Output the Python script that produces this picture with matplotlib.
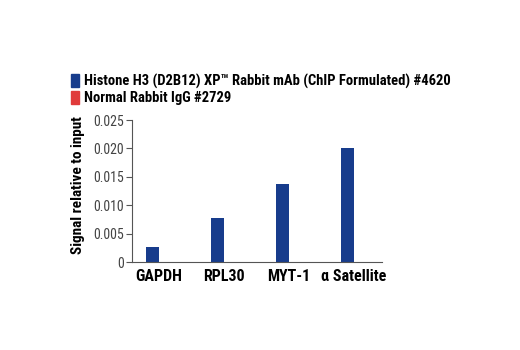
import numpy as np
import matplotlib.pyplot as plt
from matplotlib.patches import Patch

categories = ["GAPDH", "RPL30", "MYT-1", "\u03b1 Satellite"]
histone = [0.0027, 0.0077, 0.0137, 0.0200]
igg = [0.0001, 0.0001, 0.0001, 0.0001]
series_names = ["Histone H3 (D2B12) XP\u2122 Rabbit mAb (ChIP Formulated) #4620",
                "Normal Rabbit IgG #2729"]
yticks = [0, 0.005, 0.010, 0.015, 0.020, 0.025]
ytick_labels = ["0", "0.005", "0.010", "0.015", "0.020", "0.025"]

blue = "#173c8c"
red = "#e03a3a"
plt.rcParams['font.family'] = ["Roboto Condensed", "DejaVu Sans"]

fig = plt.figure(figsize=(5.2, 3.5), dpi=100)
ax = fig.add_axes([0.254, 0.251, 0.481, 0.406])

x = np.arange(len(categories))
w = 0.2
ax.bar(x, histone, w, color=blue)
ax.bar(x + w, igg, w, color=red)

ax.set_xlim(-0.315, 3.535)
ax.set_ylim(0, 0.025)
ax.set_yticks(yticks)
ax.set_yticklabels(ytick_labels, fontsize=10, color="#444444")
ax.set_xticks(x + w / 2)
ax.set_xticklabels(categories, fontsize=11.5, fontweight="bold")
ax.tick_params(axis="x", length=0, pad=5)
ax.tick_params(axis="y", length=4, color="#555555", pad=2)
for s in ["top", "right"]:
    ax.spines[s].set_visible(False)
for s in ["left", "bottom"]:
    ax.spines[s].set_color("#555555")
    ax.spines[s].set_linewidth(0.8)
ax.set_ylabel("Signal relative to input", fontsize=11, fontweight="bold", labelpad=5)
ax.yaxis.set_label_coords(-0.19, 0.54)

handles = [Patch(color=blue), Patch(color=red)]
fig.legend(handles, series_names, loc="upper left", bbox_to_anchor=(0.137, 0.79),
           frameon=False, handlelength=0.5, handleheight=1.0, handletextpad=0.4,
           labelspacing=0.15, borderpad=0, borderaxespad=0,
           prop={"size": 10.5, "weight": "bold"})

fig.savefig("out.png", dpi=100)
